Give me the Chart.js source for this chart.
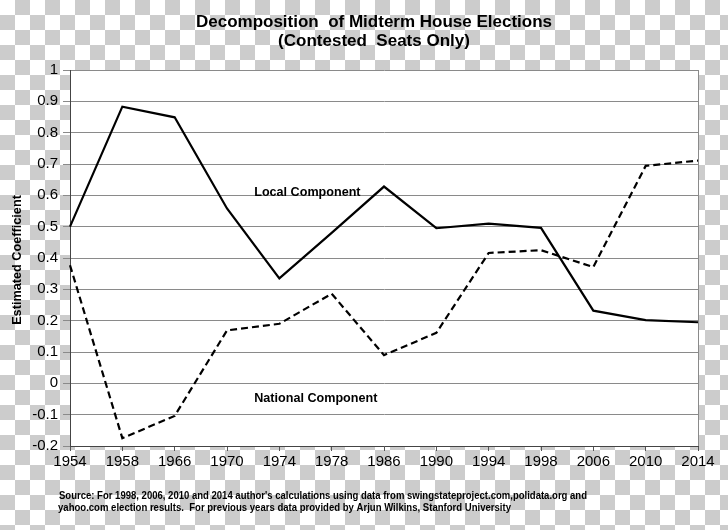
<!DOCTYPE html>
<html>
<head>
<meta charset="utf-8">
<script src="https://cdn.jsdelivr.net/npm/chart.js@4/dist/chart.umd.min.js"></script>
<style>
  html, body { margin: 0; padding: 0; }
  body {
    width: 728px; height: 530px; overflow: hidden;
    background-color: #ffffff;
    background-image: conic-gradient(#cccccc 25%, #ffffff 0 50%, #cccccc 0 75%, #ffffff 0);
    background-size: 30px 30px;
    background-position: 0 0;
  }
  #wrap { position: relative; width: 728px; height: 530px; }
</style>
</head>
<body>
<div id="wrap"><canvas id="c" width="728" height="530"></canvas></div>
<script>
// ---- data ----
const years = ['1954','1958','1966','1970','1974','1978','1986','1990','1994','1998','2006','2010','2014'];
const localComponent = [0.50, 0.883, 0.849, 0.558, 0.335, 0.48, 0.628, 0.495, 0.51, 0.496, 0.232, 0.202, 0.195];
const nationalComponent = [0.377, -0.175, -0.104, 0.169, 0.19, 0.286, 0.09, 0.161, 0.416, 0.425, 0.371, 0.694, 0.711];
const yTicks = [1, 0.9, 0.8, 0.7, 0.6, 0.5, 0.4, 0.3, 0.2, 0.1, 0, -0.1, -0.2];
const titleLines = ['Decomposition  of Midterm House Elections', '(Contested  Seats Only)'];
const yAxisTitle = 'Estimated Coefficient';
const seriesLabels = ['Local Component', 'National Component'];
const sourceLines = [
  "Source: For 1998, 2006, 2010 and 2014 author's calculations using data from swingstateproject.com,polidata.org and",
  "yahoo.com election results.  For previous years data provided by Arjun Wilkins, Stanford University"
];

const FONT = '"Liberation Sans", Arial, Helvetica, sans-serif';

const decorPlugin = {
  id: 'decor',
  beforeDraw(chart) {
    const {ctx, chartArea: a} = chart;
    ctx.save();
    ctx.fillStyle = '#ffffff';
    ctx.fillRect(a.left, a.top, a.right - a.left, a.bottom - a.top);
    ctx.restore();
  },
  afterDraw(chart) {
    const {ctx, chartArea: a, scales} = chart;
    ctx.save();
    // right border of plot area
    ctx.strokeStyle = '#8a8a8a';
    ctx.lineWidth = 1;
    ctx.beginPath();
    ctx.moveTo(Math.round(a.right) + 0.5, a.top);
    ctx.lineTo(Math.round(a.right) + 0.5, a.bottom);
    ctx.stroke();

    ctx.fillStyle = '#000';
    // title
    ctx.font = 'bold 17px ' + FONT;
    ctx.textAlign = 'center';
    ctx.textBaseline = 'alphabetic';
    ctx.fillText(titleLines[0], 374, 26.5);
    ctx.fillText(titleLines[1], 374, 45.5);

    // y axis title
    ctx.save();
    ctx.translate(17, 260);
    ctx.rotate(-Math.PI / 2);
    ctx.font = 'bold 12.7px ' + FONT;
    ctx.textAlign = 'center';
    ctx.textBaseline = 'middle';
    ctx.fillText(yAxisTitle, 0, 0);
    ctx.restore();

    // series labels, anchored to data coordinates
    const xs = scales.x, ys = scales.y;
    ctx.font = 'bold 12.6px ' + FONT;
    ctx.textAlign = 'left';
    ctx.textBaseline = 'middle';
    ctx.fillText(seriesLabels[0], xs.getPixelForValue(3.52), ys.getPixelForValue(0.61));
    ctx.fillText(seriesLabels[1], xs.getPixelForValue(3.52), ys.getPixelForValue(-0.05));

    // source text (condensed)
    ctx.font = 'bold 10.5px ' + FONT;
    const targets = [[59, 496, 528], [58, 508, 453]];
    sourceLines.forEach((t, i) => {
      const [x, y, w] = targets[i];
      const m = ctx.measureText(t).width;
      ctx.save();
      ctx.translate(x, y);
      ctx.scale(w / m, 1);
      ctx.textBaseline = 'middle';
      ctx.fillText(t, 0, 0);
      ctx.restore();
    });
    ctx.restore();
  }
};

new Chart(document.getElementById('c'), {
  type: 'line',
  data: {
    labels: years,
    datasets: [
      {
        label: seriesLabels[0],
        data: localComponent,
        borderColor: '#000',
        borderWidth: 2.2,
        pointRadius: 0,
        tension: 0,
        fill: false
      },
      {
        label: seriesLabels[1],
        data: nationalComponent,
        borderColor: '#000',
        borderWidth: 2.2,
        borderDash: [7, 4],
        pointRadius: 0,
        tension: 0,
        fill: false
      }
    ]
  },
  options: {
    responsive: false,
    animation: false,
    devicePixelRatio: 1,
    layout: { padding: { top: 70, left: 0, right: 30, bottom: 0 } },
    plugins: {
      legend: { display: false },
      title: { display: false },
      tooltip: { enabled: false }
    },
    scales: {
      x: {
        type: 'category',
        offset: false,
        afterFit(s) { s.height = 84; },
        grid: { drawOnChartArea: false, drawTicks: true, tickLength: 5, color: '#555' },
        border: { color: '#444', width: 1 },
        ticks: {
          autoSkip: false, maxRotation: 0, minRotation: 0,
          padding: 2, color: '#000',
          font: { family: FONT, size: 15 }
        }
      },
      y: {
        min: -0.2, max: 1,
        afterFit(s) { s.width = 70; },
        afterBuildTicks(s) { s.ticks = yTicks.map(v => ({ value: v })); },
        grid: { color: '#8a8a8a', lineWidth: 1, tickLength: 7, drawTicks: true },
        border: { color: '#444', width: 1 },
        ticks: {
          padding: 5, color: '#000',
          font: { family: FONT, size: 15 },
          callback: v => String(Math.round(v * 10) / 10)
        }
      }
    }
  },
  plugins: [decorPlugin]
});
</script>
</body>
</html>
